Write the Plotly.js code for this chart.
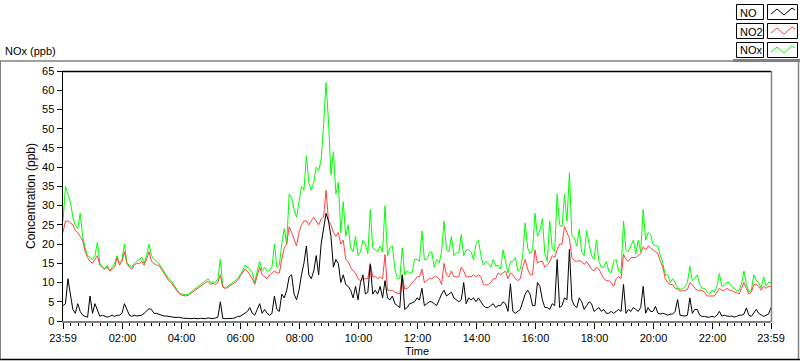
<!DOCTYPE html>
<html>
<head>
<meta charset="utf-8">
<script src="https://cdn.plot.ly/plotly-3.0.1.min.js"></script>
<style>
html,body{margin:0;padding:0;background:#fff;}
#chart{width:800px;height:361px;}
</style>
</head>
<body>
<div id="chart"></div>
<script>
// Samples every 5 minutes from 23:59 (previous day) to 23:59
const startTime = '2024-01-01T23:59:00Z';
const stepMinutes = 5;

const noxValues = [
  26, 35, 33, 31, 27, 25, 24, 28, 22, 19, 17, 16.5,
  16, 17, 20.5, 15, 14, 13.5, 14.5, 13, 14, 15, 17, 15,
  16, 20, 15, 14.5, 14, 15, 15.5, 16, 16.5, 15, 17, 20,
  17, 16, 15.5, 15, 14, 13, 12, 11, 10.5, 9.5, 8.5, 7.5,
  7, 7, 6.8, 7, 7.5, 8, 8.5, 9, 9.5, 10, 10.5, 11,
  10, 10.2, 10, 11, 16, 9, 8.5, 9, 9.5, 10, 10.5, 11,
  12, 13, 14.5, 14, 13.5, 12.5, 10, 13, 15.5, 13, 14, 13,
  13, 14, 20, 14, 14.5, 20, 24, 20, 33, 32, 29, 27,
  31, 35, 34, 43, 36, 34, 36, 40, 39, 42, 51, 62,
  52, 38, 44, 33, 36, 23, 31, 22, 25, 19, 18, 22,
  17, 18, 21, 20, 17.5, 29, 19, 18.5, 18, 19.5, 18, 30,
  17, 19, 19.5, 13.5, 11, 11, 19, 12, 13, 12.5, 12.5, 16,
  16, 15.5, 23.4, 16, 16, 17.7, 18, 14, 16, 15, 18, 26,
  18.5, 18, 22, 17, 17.7, 17.7, 22.5, 17, 18.5, 18.5, 18, 16,
  20, 21, 17, 14.5, 15.5, 15, 14, 16, 14.3, 14.5, 13.5, 18.5,
  15.5, 12.5, 15.5, 15.5, 16.5, 13, 13.5, 17, 25.5, 19, 17.5, 18.5,
  28, 22, 23.5, 26.6, 17.5, 15.5, 26, 19, 18, 33, 25, 24.5,
  33, 26, 38.5, 22, 21.5, 19.5, 23.8, 18, 17, 23.5, 20, 17,
  16, 21.1, 15.5, 14, 14, 15.5, 13, 12.5, 15.5, 16, 13, 12.5,
  26, 18.5, 18, 19.6, 21, 17.5, 21, 18, 29, 21, 23, 22.5,
  20, 19.5, 19.5, 17, 15, 12, 12, 10, 11, 10, 8.5, 8.3,
  8.3, 9, 10, 14.2, 10.5, 11, 12, 9.5, 8.5, 8.5, 7.5, 7,
  8, 7.5, 9, 12.3, 9, 9.5, 10, 10, 9, 8.5, 8, 8,
  9.5, 13, 9.5, 7.5, 8, 12, 10.5, 10, 8.5, 11.5, 9, 10, 10
];

const no2Values = [
  23, 26, 26, 25.5, 25, 23.5, 23, 22, 21, 18, 16.5, 15.5,
  15, 16, 17, 14.5, 14, 13.5, 14, 13, 13.5, 14, 16.5, 14.5,
  15.5, 18, 15, 14, 13.5, 14.5, 15, 15, 15.5, 14.5, 16, 18,
  15.5, 15, 14.5, 14.5, 13.5, 12.5, 11.5, 10.5, 10, 9, 8.2, 7.3,
  6.8, 6.6, 6.5, 6.7, 7.2, 7.7, 8.2, 8.6, 9, 9.5, 10, 10.3,
  9.5, 9.8, 9.5, 10, 12, 8.8, 8.5, 8.7, 9.2, 9.7, 10, 10.5,
  11.5, 12.5, 13.5, 13, 12, 11, 9.5, 12, 14, 12, 11.5, 11,
  12, 12.5, 13, 12.5, 12.5, 16, 19, 20, 24.5, 23, 21.5, 19.5,
  23, 25, 26, 26, 25, 26, 27, 26, 25, 26.5, 27, 34,
  26, 25, 23, 22, 23, 20, 21, 16, 15.5, 14, 13, 12.5,
  11, 10.5, 11, 11, 11, 15, 11.5, 11.5, 11, 11.5, 11, 17.3,
  8, 8, 8, 7.5, 7.3, 7, 12, 8.3, 8.5, 9, 10, 10.5,
  11.5, 11.5, 13.5, 10, 10.5, 11, 11, 11.5, 11.5, 11, 9.5, 15,
  12, 11.5, 13, 11.5, 11.5, 11.5, 14, 13, 11.5, 11.5, 11.5, 12,
  11.5, 12, 11.5, 9.5, 9.3, 9.5, 10, 11, 11, 12.5, 12, 12.5,
  13, 11, 12.5, 12, 11, 10.5, 11, 14, 16, 13.5, 12, 12,
  18.5, 15, 15.5, 15.5, 14, 14.5, 15.5, 17, 16.5, 18.5, 20, 20,
  24.6, 23, 21.5, 16.5, 15.7, 15.5, 15.7, 15.5, 14.7, 15.5, 14.5, 13.5,
  13, 14, 13.5, 12, 11, 10.5, 10.5, 10, 9, 11, 11.5, 11,
  17.4, 16, 15.5, 16.5, 16.5, 16.5, 17, 17.5, 19.3, 18.5, 19.5, 19,
  18.5, 18, 17.5, 15.5, 14, 11, 10, 9.5, 9.5, 8.5, 8.3, 7.8,
  7.8, 8, 8.2, 10, 9.5, 8.5, 8, 8, 8, 7.5, 6.5, 6.5,
  6.5, 6.5, 7.5, 8.5, 8, 8, 8.5, 8, 8, 7.5, 7.5, 7,
  8.5, 10, 8.5, 7, 7.5, 9.5, 9.5, 9, 8, 9, 8.5, 9, 9
];

const noValues = [
  4, 4.5, 11, 7, 3, 2, 4.5, 2.5, 1.5, 1.2, 1, 6.5,
  2, 4.5, 3, 1.2, 1.5, 1.2, 1, 1.2, 1.5, 1.2, 1.5, 1.5,
  2, 4.5, 3, 1.5, 1.2, 1.5, 1.3, 1.5, 1.5, 2, 2.5, 3.2,
  3, 2, 2, 1.7, 1.5, 1.3, 1.3, 1.2, 1, 1, 0.9, 1,
  0.8, 0.7, 0.7, 0.6, 0.6, 0.7, 0.6, 0.6, 0.7, 0.7, 0.6, 0.8,
  0.7, 0.6, 0.8, 1, 5, 0.7, 0.6, 0.6, 0.6, 0.7, 0.8, 1.2,
  1.2, 1.5, 2, 2.5, 3.5, 2, 1.5, 3, 4.5, 2, 3, 2,
  1.5, 2, 6.5, 3, 2.5, 7, 6, 8, 11.5, 12, 7, 5.5,
  8, 12, 15, 19.5, 12, 11, 13, 17, 12, 20, 24, 28,
  26, 22, 14, 16, 15, 10, 12, 9.5, 9, 8, 6, 9,
  5.5, 10, 12, 7, 7.5, 14.7, 7, 8, 7, 9, 6, 10.5,
  6, 5.5, 6.5, 4.5, 4, 3.5, 12, 3, 3.5, 4.5, 4.7, 5,
  6, 5.5, 8.5, 4, 4.5, 5, 5, 4.5, 4, 5.5, 7, 8,
  6.5, 7, 7.5, 6, 5.5, 5, 5.5, 10, 4.5, 6, 5.5, 6,
  5, 6, 5, 4, 3.5, 3.5, 4, 4.5, 3.5, 4, 4, 5,
  4.5, 2.5, 9.7, 2.5, 2, 2.5, 3, 5, 7, 8, 7, 4,
  4, 10, 9, 5.5, 3.5, 3.5, 3, 4.5, 4, 16, 3.5, 4,
  6, 5.5, 18.6, 5.5, 4, 3.5, 6, 5, 3, 4, 5, 4.5,
  2.5, 3, 3.5, 2.5, 3, 2, 2, 2.5, 2, 2.5, 3, 2.5,
  9.5, 2, 3, 2.5, 3.5, 3, 2.5, 3.5, 9, 2, 3.5, 2.5,
  2.5, 3.8, 2, 1.8, 2, 1.8, 1.5, 1.8, 1.8, 2.5, 5.6, 1.5,
  1.3, 1.3, 1.5, 6, 2, 3, 3, 1.5, 1.2, 1.2, 1, 1,
  1.2, 1, 1.5, 2.5, 1.3, 1.5, 1.3, 1.2, 1.3, 1, 1.2, 1.5,
  1.5, 1.8, 3.4, 1.5, 1.2, 2, 3, 2, 1.5, 1.2, 1.5, 1.8, 3.5
];

const seriesNames = ['NO', 'NO2', 'NOx'];
const tickTimes = ['2024-01-01T23:59:00Z','2024-01-02T02:00:00Z','2024-01-02T04:00:00Z','2024-01-02T06:00:00Z',
  '2024-01-02T08:00:00Z','2024-01-02T10:00:00Z','2024-01-02T12:00:00Z','2024-01-02T14:00:00Z',
  '2024-01-02T16:00:00Z','2024-01-02T18:00:00Z','2024-01-02T20:00:00Z','2024-01-02T22:00:00Z','2024-01-02T23:59:00Z'];
const tickLabels = ['23:59','02:00','04:00','06:00','08:00','10:00','12:00','14:00','16:00','18:00','20:00','22:00','23:59'];

const t0 = Date.parse(startTime);
const times = noxValues.map((_, i) => t0 + i * stepMinutes * 60000);
const tickMs = tickTimes.map(t => Date.parse(t));

const FONT = 'Liberation Sans, Arial, sans-serif';
const L = 63, R = 771, T = 71, B = 321;
const px = x => (x - L) / (R - L);
const py = y => (B - y) / (B - T);

function line(x0, y0, x1, y1, color, w) {
  return {type:'line', xref:'paper', yref:'paper', x0:px(x0), y0:py(y0), x1:px(x1), y1:py(y1),
    line:{color:color, width:w||1}, layer:'above'};
}
function rect(x0, y0, x1, y1, color) {
  return {type:'rect', xref:'paper', yref:'paper', x0:px(x0), y0:py(y0), x1:px(x1), y1:py(y1),
    line:{color:color, width:1}, fillcolor:'rgba(0,0,0,0)', layer:'above'};
}
function zig(x0, y0, color) {
  const pts = [[x0+3, y0+10], [x0+9, y0+5], [x0+16, y0+11], [x0+24, y0+4], [x0+27, y0+6]];
  let d = 'M ' + pts.map(p => px(p[0]) + ',' + py(p[1])).join(' L ');
  return {type:'path', xref:'paper', yref:'paper', path:d, line:{color:color, width:1}, layer:'above'};
}

const colors = {NO:'#000000', NO2:'#FF4040', NOx:'#00FF00'};
const legendRows = [{name:seriesNames[0], y:4}, {name:seriesNames[1], y:23}, {name:seriesNames[2], y:42}];

const shapes = [
  line(0, 61, 733, 61, '#808080', 1.5),
  line(733, 60.5, 800, 60.5, '#808080', 3),
  line(0.5, 61, 0.5, 360, '#808080', 1),
  line(798.5, 61, 798.5, 360, '#808080', 1.5),
  line(0, 359.5, 800, 359.5, '#000000', 1.5),
  line(62, 71.5, 771, 71.5, '#000000', 1.5),
  line(771.5, 71, 771.5, 322, '#808080', 1.5)
];
const annotations = [
  {text:'NOx (ppb)', xref:'paper', yref:'paper', x:px(3), y:py(51), xanchor:'left', yanchor:'middle',
   showarrow:false, font:{family:FONT, size:11, color:'#000'}}
];
legendRows.forEach(r => {
  shapes.push(rect(736.5, r.y + 0.5, 763.5, r.y + 15.5, '#000'));
  shapes.push(rect(767.5, r.y + 0.5, 797.5, r.y + 15.5, '#000'));
  shapes.push(zig(768, r.y, colors[r.name]));
  annotations.push({text:r.name, xref:'paper', yref:'paper', x:px(738), y:py(r.y + 8.5),
    xanchor:'left', yanchor:'middle', showarrow:false, font:{family:FONT, size:11, color:'#000'}});
});

const traces = [
  {x:times, y:noxValues, name:'NOx', type:'scatter', mode:'lines', line:{color:colors.NOx, width:1}},
  {x:times, y:no2Values, name:'NO2', type:'scatter', mode:'lines', line:{color:colors.NO2, width:1}},
  {x:times, y:noValues, name:'NO', type:'scatter', mode:'lines', line:{color:colors.NO, width:1}}
];

const layout = {
  width:800, height:361,
  margin:{l:L, r:800-R, t:T, b:361-B, pad:0},
  paper_bgcolor:'#ffffff', plot_bgcolor:'#ffffff',
  showlegend:false,
  font:{family:FONT, size:11, color:'#000'},
  xaxis:{
    type:'date', range:[tickMs[0], tickMs[tickMs.length-1]],
    tickmode:'array', tickvals:tickMs, ticktext:tickLabels,
    ticks:'outside', ticklen:6, tickcolor:'#000', tickwidth:1,
    minor:{ticks:'outside', ticklen:3, tickcolor:'#000', dtick:15*60000, tick0:'2024-01-02 00:00', showgrid:false},
    showgrid:false, zeroline:false, showline:true, linecolor:'#808080', linewidth:1.5,
    tickfont:{family:FONT, size:11, color:'#000'},
    title:{text:'Time', font:{family:FONT, size:11, color:'#000'}, standoff:4}
  },
  yaxis:{
    range:[0, 65], dtick:5, tick0:0,
    ticks:'outside', ticklen:5, tickcolor:'#000', tickwidth:1,
    showgrid:false, zeroline:false, showline:true, linecolor:'#000', linewidth:1.5,
    tickfont:{family:FONT, size:11, color:'#000'},
    title:{text:'Concentration (ppb)', font:{family:FONT, size:12, color:'#000'}, standoff:4}
  },
  shapes:shapes,
  annotations:annotations
};

Plotly.newPlot('chart', traces, layout, {staticPlot:true, displayModeBar:false});
</script>
</body>
</html>
